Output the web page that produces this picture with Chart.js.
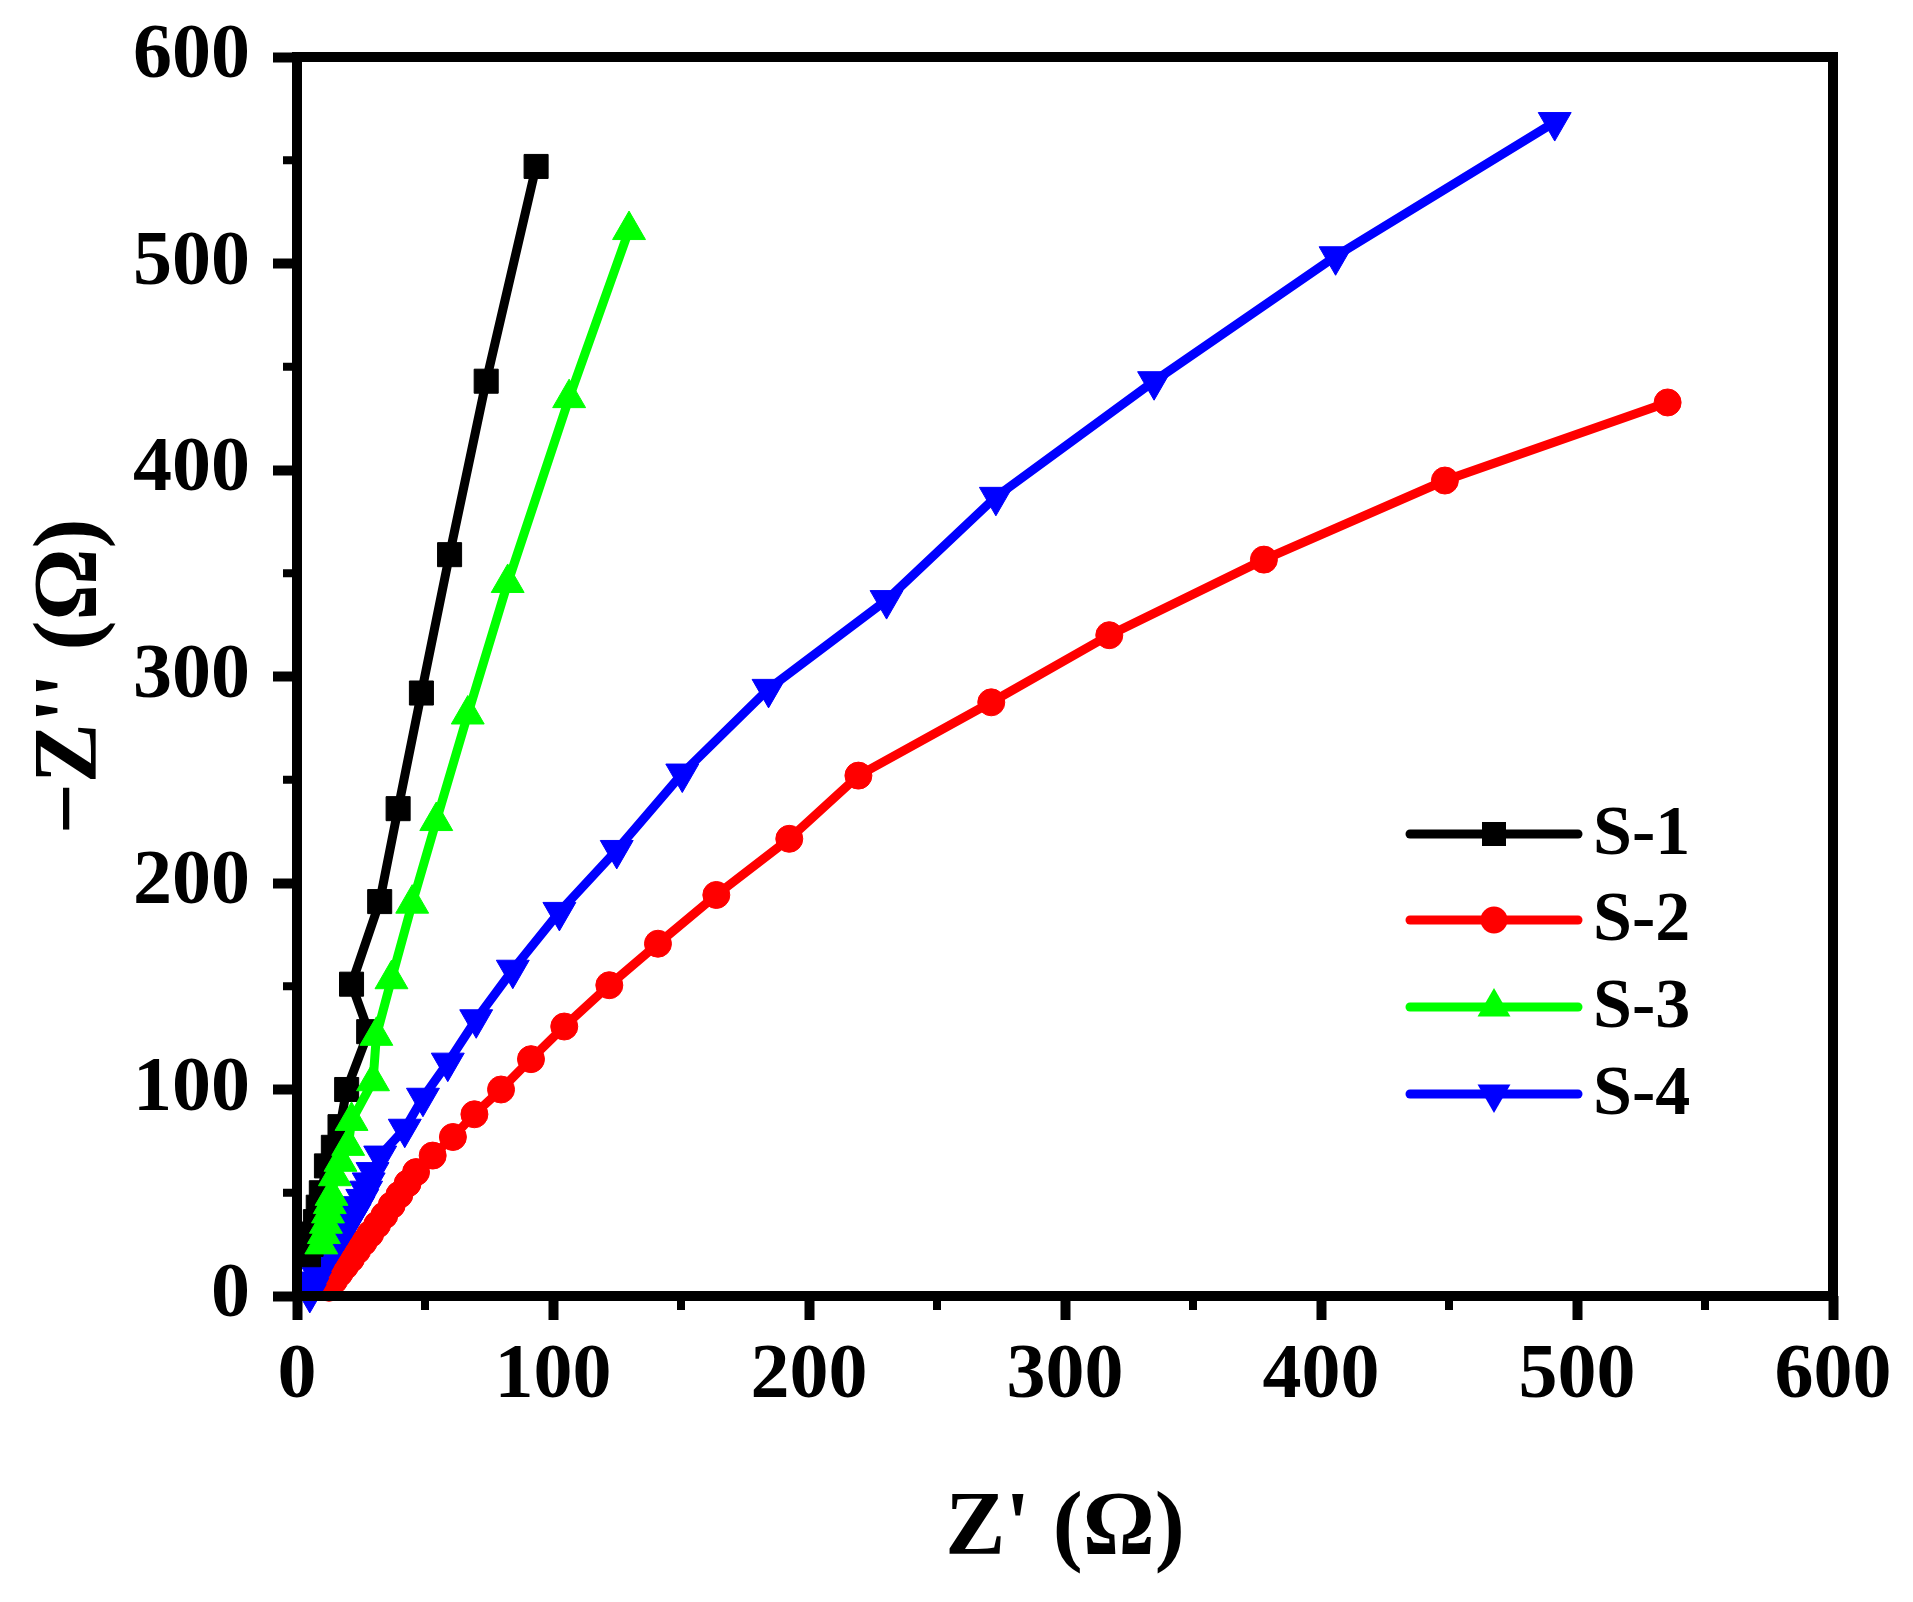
<!DOCTYPE html>
<html>
<head>
<meta charset="utf-8">
<title>Nyquist plot S-1 to S-4</title>
<script src="https://cdn.jsdelivr.net/npm/chart.js@4.4.1/dist/chart.umd.min.js"></script>
<style>
  html, body { margin: 0; padding: 0; background: #fff; }
  #wrap { width: 1913px; height: 1602px; }
</style>
</head>
<body>
<div id="wrap"><canvas id="eis-chart" width="1913" height="1602"></canvas></div>
<script>
// Z' (x) and -Z'' (y) values, in ohm
const s1Re = [4.5, 5.5, 6.3, 7.2, 8.3, 9.5, 11.5, 14.2, 16.8, 19.4, 28.0, 21.3, 32.3, 39.5, 48.6, 59.6, 73.9, 93.4];
const s1Im = [20, 25, 30, 36, 43, 50, 63, 72, 82, 100, 128, 151, 191, 236, 292, 359, 443, 547];

const s2Re = [12.5, 14.5, 16.6, 18.8, 21.1, 23.5, 26.0, 28.6, 31.3, 34.1, 37.0, 40.0, 43.2, 46.5, 53.0, 60.9, 69.3, 79.7, 91.4, 104.4, 122.0, 141.0, 163.8, 192.3, 219.3, 271.2, 317.3, 377.7, 448.4, 535.4];
const s2Im = [4, 7.5, 11, 14.5, 18, 22, 26, 30, 34.5, 39, 44, 49, 54.5, 60, 68, 77, 88, 100, 114.7, 130.5, 150.5, 170.6, 194.2, 221.4, 252, 287.5, 320, 356.6, 394.9, 432.7];

const s3Re = [9.5, 10.5, 11.3, 12.1, 12.8, 13.5, 14.8, 17.0, 20.0, 21.3, 29.7, 31.0, 36.9, 45.0, 54.4, 66.7, 82.3, 106.3, 129.7];
const s3Im = [25, 30, 35, 40, 44.5, 48.5, 58, 65, 72.7, 84.8, 104, 126, 153.4, 190, 230, 281.6, 345.3, 434.8, 516.2];

const s4Re = [5.0, 6.0, 7.0, 8.0, 9.0, 10.5, 12.0, 13.5, 15.0, 16.5, 18.0, 19.5, 21.0, 22.5, 24.0, 25.5, 27.0, 28.0, 29.5, 32.5, 42.1, 49.2, 58.9, 70.0, 84.3, 102.5, 124.9, 150.5, 184.2, 230.3, 273.0, 334.8, 405.7, 491.3];
const s4Im = [1, 4, 7, 10, 13, 16, 19, 22, 25, 28, 31, 34, 37, 40, 43.5, 47, 51, 55, 60, 68, 81, 96, 113, 134, 158, 186, 216, 253, 294, 337, 387, 443, 503.5, 568.5];

const seriesNames = ['S-1', 'S-2', 'S-3', 'S-4'];
const seriesColors = ['#000000', '#ff0000', '#00ff00', '#0000ff'];
// stacking seen in the crowded corner: green on top, then black, blue, red at the bottom
const seriesOrder = [1, 3, 0, 2];

// axis ticks
const majorTicks = [0, 100, 200, 300, 400, 500, 600];
const minorTicks = [50, 150, 250, 350, 450, 550];

const FONT = "'Liberation Serif', 'Times New Roman', serif";

// pair up x and y arrays into points
function toPoints(xs, ys) {
    return xs.map((x, i) => ({ x: x, y: ys[i] }));
}

// marker styles for each series
const markers = [
    { style: 'rect', radius: 17, rotation: 0 },
    { style: 'circle', radius: 13.5, rotation: 0 },
    { style: 'triangle', radius: 19, rotation: 0 },
    { style: 'triangle', radius: 19, rotation: 180 }
];

function makeDataset(i, xs, ys) {
    return {
        label: seriesNames[i],
        data: toPoints(xs, ys),
        borderColor: seriesColors[i],
        backgroundColor: seriesColors[i],
        borderWidth: 9,
        pointStyle: markers[i].style,
        pointRadius: markers[i].radius,
        pointRotation: markers[i].rotation,
        pointBorderWidth: 1,
        pointBorderColor: seriesColors[i],
        pointBackgroundColor: seriesColors[i],
        showLine: true,
        tension: 0,
        clip: false,
        order: seriesOrder[i]
    };
}

// draw one legend symbol by hand
function drawMarker(ctx, m, x, y, color) {
    ctx.save();
    ctx.fillStyle = color;
    ctx.beginPath();
    const r = m.radius;
    if (m.style === 'rect') {
        const h = Math.SQRT1_2 * r;
        ctx.rect(x - h, y - h, 2 * h, 2 * h);
    } else if (m.style === 'circle') {
        ctx.arc(x, y, r, 0, Math.PI * 2);
    } else {
        const dir = m.rotation === 180 ? -1 : 1;
        ctx.moveTo(x, y - dir * r);
        ctx.lineTo(x + r * Math.sin(2 * Math.PI / 3), y + dir * r / 2);
        ctx.lineTo(x - r * Math.sin(2 * Math.PI / 3), y + dir * r / 2);
        ctx.closePath();
    }
    ctx.fill();
    ctx.restore();
}

// frame, minor ticks and legend
const framePlugin = {
    id: 'frame',
    afterDatasetsDraw(chart) {
        const ctx = chart.ctx;
        const a = chart.chartArea;
        const xs = chart.scales.x;
        const ys = chart.scales.y;

        ctx.save();
        ctx.strokeStyle = '#000';
        ctx.lineWidth = 10;
        ctx.lineJoin = 'miter';
        ctx.strokeRect(a.left, a.top, a.right - a.left, a.bottom - a.top);

        // minor ticks (outward, shorter)
        ctx.lineWidth = 8;
        ctx.beginPath();
        minorTicks.forEach(v => {
            const px = xs.getPixelForValue(v);
            ctx.moveTo(px, a.bottom);
            ctx.lineTo(px, a.bottom + 14);
            const py = ys.getPixelForValue(v);
            ctx.moveTo(a.left, py);
            ctx.lineTo(a.left - 14, py);
        });
        ctx.stroke();
        ctx.restore();

        // legend: line + marker + name
        const lineX0 = 1410, lineX1 = 1578, textX = 1593;
        const rowY = [834, 920, 1007, 1094];
        ctx.save();
        seriesNames.forEach((name, i) => {
            const y = rowY[i];
            ctx.strokeStyle = seriesColors[i];
            ctx.lineWidth = 9;
            ctx.lineCap = 'round';
            ctx.beginPath();
            ctx.moveTo(lineX0, y);
            ctx.lineTo(lineX1, y);
            ctx.stroke();
            drawMarker(ctx, markers[i], (lineX0 + lineX1) / 2, y, seriesColors[i]);
            ctx.fillStyle = '#000';
            ctx.font = 'bold 70px ' + FONT;
            ctx.textAlign = 'left';
            ctx.textBaseline = 'middle';
            ctx.fillText(name, textX, y + 2);
        });
        ctx.restore();
    }
};

const tickFont = { family: FONT, size: 78, weight: 'bold' };
const titleFont = { family: FONT, size: 90, weight: 'bold' };

const ctx = document.getElementById('eis-chart').getContext('2d');

const chart = new Chart(ctx, {
    type: 'line',
    data: {
        datasets: [
            makeDataset(0, s1Re, s1Im),
            makeDataset(1, s2Re, s2Im),
            makeDataset(2, s3Re, s3Im),
            makeDataset(3, s4Re, s4Im)
        ]
    },
    options: {
        responsive: false,
        animation: false,
        devicePixelRatio: 1,
        layout: { padding: { left: 0, right: 80, top: 57, bottom: 0 } },
        plugins: {
            legend: { display: false },
            tooltip: { enabled: false }
        },
        scales: {
            x: {
                type: 'linear',
                min: 0,
                max: 600,
                afterBuildTicks: scale => { scale.ticks = majorTicks.map(v => ({ value: v })); },
                afterFit: scale => {
                    // fixed axis band; ignore label overflow so the frame lands where the original has it
                    scale.height = 306;
                    scale.paddingLeft = 0;
                    scale.paddingRight = 0;
                },
                ticks: { color: '#000', font: tickFont, padding: 10, maxRotation: 0 },
                grid: { drawOnChartArea: false, drawTicks: true, tickLength: 24, tickWidth: 10, tickColor: '#000' },
                border: { display: false },
                title: { display: true, text: "Z' (Ω)", color: '#000', font: titleFont, padding: { top: 0, bottom: 17 } }
            },
            y: {
                type: 'linear',
                min: 0,
                max: 600,
                afterBuildTicks: scale => { scale.ticks = majorTicks.map(v => ({ value: v })); },
                afterFit: scale => {
                    scale.width = 297;
                    scale.paddingTop = 0;
                    scale.paddingBottom = 0;
                },
                ticks: { color: '#000', font: tickFont, padding: 23 },
                grid: { drawOnChartArea: false, drawTicks: true, tickLength: 24, tickWidth: 10, tickColor: '#000' },
                border: { display: false },
                title: { display: true, text: "\u2212Z'' (Ω)", color: '#000', font: titleFont, padding: { top: 19, bottom: 0 } }
            }
        }
    },
    plugins: [framePlugin]
});
</script>
</body>
</html>
